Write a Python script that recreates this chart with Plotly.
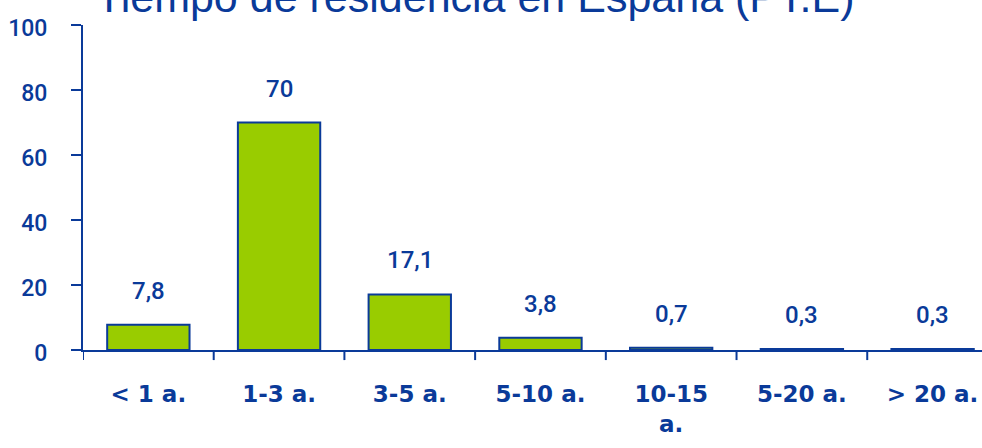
import plotly.graph_objects as go

categories = ["< 1 a.", "1-3 a.", "3-5 a.", "5-10 a.", "10-15<br>a.", "5-20 a.", "> 20 a."]
values = [7.8, 70, 17.1, 3.8, 0.7, 0.3, 0.3]
value_labels = ["7,8", "70", "17,1", "3,8", "0,7", "0,3", "0,3"]
title_text = "Tiempo de residencia en España (PT.E)"

BLUE = "#0a3a99"
GREEN = "#99cc00"

fig = go.Figure()
fig.add_trace(go.Bar(
    x=list(range(len(categories))), y=values,
    marker=dict(color=GREEN, line=dict(color=BLUE, width=2)),
    width=0.63, hoverinfo="skip",
))

for i, (v, t) in enumerate(zip(values, value_labels)):
    fig.add_annotation(x=i, y=v, text=t, showarrow=False, yanchor="bottom",
                       yshift=18, font=dict(family="Roboto", size=24, color=BLUE, weight=500))

fig.update_layout(
    width=982, height=448,
    margin=dict(l=83, r=0, t=25, b=98, autoexpand=False),
    paper_bgcolor="white", plot_bgcolor="white",
    showlegend=False,
    xaxis=dict(
        range=[-0.5, 6.378],
        tickmode="array", tickvals=list(range(len(categories))), ticktext=categories,
        showline=True, linecolor=BLUE, linewidth=2,
        ticks="", showgrid=False, zeroline=False,
        tickfont=dict(family="DejaVu Sans", size=23, color=BLUE, weight="bold"),
        ticklabelstandoff=22,
    ),
    yaxis=dict(
        range=[0, 100], dtick=20, tick0=0,
        showline=True, linecolor=BLUE, linewidth=2,
        ticks="outside", ticklen=10, tickwidth=2, tickcolor=BLUE,
        showgrid=False, zeroline=False,
        tickfont=dict(family="Roboto", size=23, color=BLUE, weight=500),
        ticklabelstandoff=19, ticklabelshift=3,
    ),
)

# category boundary ticks on the x axis
for b in [k + 0.5 for k in range(-1, len(categories))]:
    fig.add_shape(type="line", xref="x", yref="paper", x0=b, x1=b, y0=0, y1=-0.031,
                  line=dict(color=BLUE, width=2))

fig.add_annotation(xref="paper", yref="paper", x=0.012, y=1.0, yshift=2,
                   xanchor="left", yanchor="bottom", text=title_text, showarrow=False,
                   font=dict(family="Liberation Sans", size=43, color=BLUE))

fig.write_html("out.html", post_script="document.body.style.margin='0px';",
               config={"displayModeBar": False})
